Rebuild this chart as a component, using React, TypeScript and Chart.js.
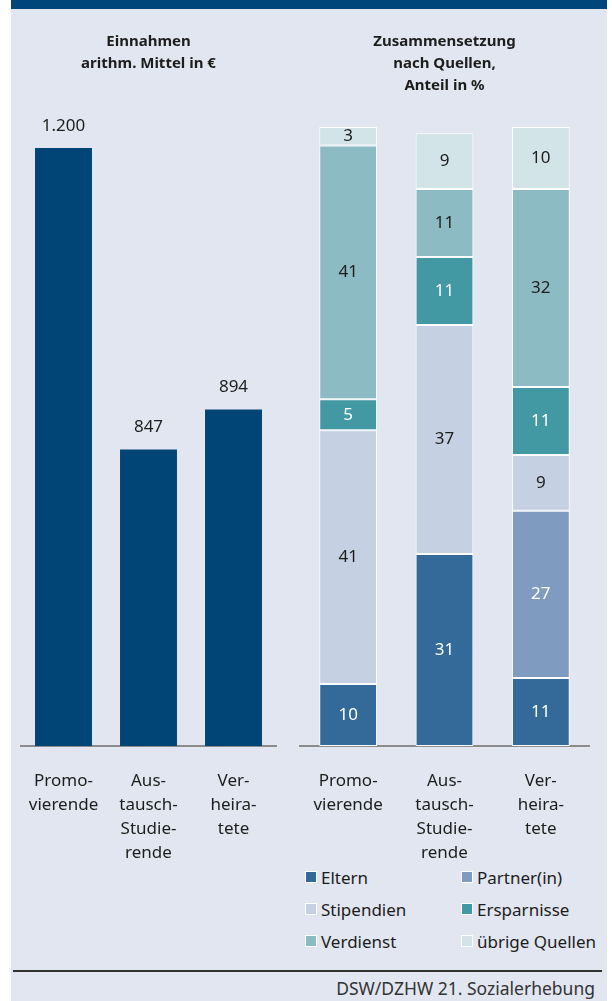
import React, { useEffect, useRef } from "react";
import { Chart, registerables } from "chart.js";

Chart.register(...registerables);

// ---- data ----
const categories: string[][] = [
  ["Promo-", "vierende"],
  ["Aus-", "tausch-", "Studie-", "rende"],
  ["Ver-", "heira-", "tete"],
];
const einnahmenTitle = ["Einnahmen", "arithm. Mittel in €"];
const einnahmen = [1200, 847, 894];
const einnahmenMin = 500;
const einnahmenMax = 1200;

const quellenTitle = ["Zusammensetzung", "nach Quellen,", "Anteil in %"];
const sourceNames = ["Eltern", "Partner(in)", "Stipendien", "Ersparnisse", "Verdienst", "übrige Quellen"];
const eltern = [10, 31, 11];
const partner = [0, 0, 27];
const stipendien = [41, 37, 9];
const ersparnisse = [5, 11, 11];
const verdienst = [41, 11, 32];
const uebrige = [3, 9, 10];
const sourceValues = [eltern, partner, stipendien, ersparnisse, verdienst, uebrige];
const sourceText = "DSW/DZHW 21. Sozialerhebung";

// ---- styles ----
const FONT = '"Noto Sans", "DejaVu Sans", sans-serif';
const TEXT = "#1d1d1b";
const BG = "#e1e6f1";
const BAND = "#00467a";
const BAR = "#004576";
const AXIS = "#8c8c8c";
const sourceColors = ["#336a99", "#7f9bc0", "#c5d1e2", "#4399a3", "#8dbbc4", "#d3e4e8"];
const sourceLabelColors = ["#ffffff", "#ffffff", TEXT, "#ffffff", TEXT, TEXT];

function fmtDe(v: number): string {
  const s = String(Math.round(v));
  return s.replace(/\B(?=(\d{3})+(?!\d))/g, ".");
}

function makeLabelPlugin(mode: "above" | "center") {
  return {
    id: "valueLabels" + mode,
    afterDatasetsDraw(chart: any) {
      const ctx = chart.ctx;
      chart.data.datasets.forEach((ds: any, di: number) => {
        const meta = chart.getDatasetMeta(di);
        meta.data.forEach((el: any, i: number) => {
          const v = ds.data[i];
          if (!v) return;
          const p = el.getProps(["x", "y", "base"], true);
          ctx.save();
          ctx.font = "17px " + FONT;
          ctx.textAlign = "center";
          ctx.textBaseline = "middle";
          if (mode === "above") {
            ctx.fillStyle = TEXT;
            ctx.fillText(fmtDe(v), p.x, p.y - 22);
          } else {
            ctx.fillStyle = sourceLabelColors[di];
            ctx.fillText(String(v), p.x, (p.y + p.base) / 2);
          }
          ctx.restore();
        });
      });
    },
  };
}

function xAxis() {
  return {
    stacked: true,
    grid: { display: false },
    border: { display: true, color: AXIS, width: 2 },
    ticks: {
      color: TEXT,
      padding: 15,
      maxRotation: 0,
      autoSkip: false,
      font: { family: FONT, size: 17, lineHeight: 24 / 17 },
    },
    afterFit: (axis: any) => {
      axis.height = 114;
    },
  };
}

function titleOpts(text: string[], bottom: number) {
  return {
    display: true,
    text,
    color: TEXT,
    font: { family: FONT, size: 15, weight: "bold" as const, lineHeight: 22 / 15 },
    padding: { top: 31, bottom },
  };
}

function LeftChart() {
  const ref = useRef<HTMLCanvasElement>(null);
  useEffect(() => {
    const chart = new Chart(ref.current!, {
      type: "bar",
      data: {
        labels: categories as any,
        datasets: [
          {
            label: einnahmenTitle.join(" "),
            data: einnahmen,
            backgroundColor: BAR,
            borderWidth: 0,
            categoryPercentage: 1,
            barPercentage: 0.67,
          },
        ],
      },
      options: {
        responsive: false,
        animation: false,
        layout: { padding: { left: 10, right: 14, top: 0, bottom: 0 } },
        scales: {
          x: xAxis() as any,
          y: { display: false, min: einnahmenMin, max: einnahmenMax },
        },
        plugins: {
          legend: { display: false },
          tooltip: { enabled: false },
          title: titleOpts(einnahmenTitle, 73) as any,
        },
      },
      plugins: [makeLabelPlugin("above")],
    });
    return () => chart.destroy();
  }, []);
  return (
    <canvas
      ref={ref}
      width={279}
      height={860}
      style={{ position: "absolute", left: 11, top: 0, width: 279, height: 860 }}
    />
  );
}

function RightChart() {
  const ref = useRef<HTMLCanvasElement>(null);
  useEffect(() => {
    const chart = new Chart(ref.current!, {
      type: "bar",
      data: {
        labels: categories as any,
        datasets: sourceNames.map((name, i) => ({
          label: name,
          data: sourceValues[i],
          backgroundColor: sourceColors[i],
          borderColor: "#ffffff",
          borderWidth: 1,
          borderSkipped: false,
          categoryPercentage: 1,
          barPercentage: 0.6,
        })),
      },
      options: {
        responsive: false,
        animation: false,
        layout: { padding: { left: 10, right: 18, top: 0, bottom: 0 } },
        scales: {
          x: xAxis() as any,
          y: { display: false, stacked: true, min: 0, max: 100 },
        },
        plugins: {
          legend: { display: false },
          tooltip: { enabled: false },
          title: titleOpts(quellenTitle, 30) as any,
        },
      },
      plugins: [makeLabelPlugin("center")],
    });
    return () => chart.destroy();
  }, []);
  return (
    <canvas
      ref={ref}
      width={317}
      height={860}
      style={{ position: "absolute", left: 290, top: 0, width: 317, height: 860 }}
    />
  );
}

function Legend() {
  const colX = [305, 461];
  return (
    <>
      {sourceNames.map((name, i) => {
        const row = Math.floor(i / 2);
        const col = i % 2;
        return (
          <div
            key={name}
            style={{
              position: "absolute",
              left: colX[col],
              top: 877 + row * 32 - 12,
              height: 24,
              display: "flex",
              alignItems: "center",
              fontFamily: FONT,
              fontSize: 17,
              color: TEXT,
              whiteSpace: "nowrap",
            }}
          >
            <span
              style={{
                display: "inline-block",
                width: 10,
                height: 10,
                background: sourceColors[i],
                border: "1px solid #ffffff",
                marginRight: 4,
              }}
            />
            {name}
          </div>
        );
      })}
    </>
  );
}

export default function App() {
  return (
    <div style={{ position: "absolute", left: 0, top: 0, width: 612, height: 1001, overflow: "hidden" }}>
      <div style={{ position: "absolute", left: 11, top: 0, width: 596, height: 1001, background: BG }} />
      <div style={{ position: "absolute", left: 11, top: 0, width: 596, height: 9, background: BAND }} />
      <LeftChart />
      <RightChart />
      <Legend />
      <div style={{ position: "absolute", left: 13, top: 970, width: 589, height: 1.5, background: "#333333" }} />
      <div
        style={{
          position: "absolute",
          right: 612 - 595,
          top: 976,
          height: 24,
          lineHeight: "24px",
          fontFamily: FONT,
          fontSize: 17.5,
          color: "#333333",
          whiteSpace: "nowrap",
        }}
      >
        {sourceText}
      </div>
    </div>
  );
}
